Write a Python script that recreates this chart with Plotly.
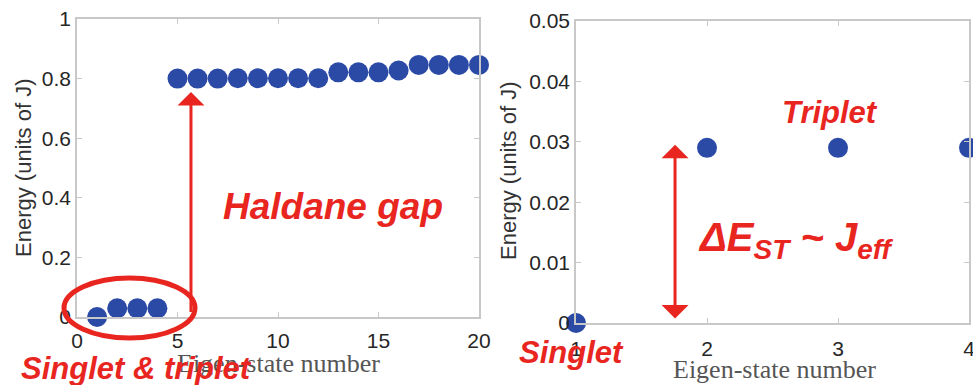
import plotly.graph_objects as go

# ---- data ----
left_states = list(range(1, 21))
left_energy = [0.0, 0.029, 0.029, 0.029,
               0.800, 0.800, 0.800, 0.801, 0.801, 0.801, 0.801, 0.801,
               0.821, 0.821, 0.821, 0.827,
               0.846, 0.846, 0.846, 0.846]
right_states = [1, 2, 3, 4]
right_energy = [0.0, 0.029, 0.029, 0.029]

left_xticks = [0, 5, 10, 15, 20]
left_yticks = [0, 0.2, 0.4, 0.6, 0.8, 1.0]
left_ytick_text = ["0", "0.2", "0.4", "0.6", "0.8", "1"]
right_xticks = [1, 2, 3, 4]
right_yticks = [0, 0.01, 0.02, 0.03, 0.04, 0.05]
right_ytick_text = ["0", "0.01", "0.02", "0.03", "0.04", "0.05"]

W, H = 973, 385
MARK = "#2b4aa6"
RED = "#e8261f"
FRAME = "#c8c8c8"
TICKFONT = dict(family="Liberation Sans, Arial, sans-serif", size=21, color="#262626")


def px(x):
    return x / W


def py(y):
    return 1 - y / H


fig = go.Figure()
fig.add_trace(go.Scatter(x=left_states, y=left_energy, mode="markers",
                         marker=dict(size=20, color=MARK), cliponaxis=False,
                         xaxis="x", yaxis="y", showlegend=False))
fig.add_trace(go.Scatter(x=right_states, y=right_energy, mode="markers",
                         marker=dict(size=20, color=MARK), cliponaxis=False,
                         xaxis="x2", yaxis="y2", showlegend=False))

axis_common = dict(showgrid=False, zeroline=False, showline=True, linecolor=FRAME,
                   linewidth=1.5, mirror="ticks", ticks="inside", ticklen=5,
                   tickcolor=FRAME, tickfont=TICKFONT, automargin=False,
                   ticklabeloverflow="allow")

fig.update_layout(
    width=W, height=H,
    margin=dict(l=0, r=0, t=0, b=0, autoexpand=False),
    paper_bgcolor="white", plot_bgcolor="white",
    xaxis=dict(domain=[px(77), px(479)], range=[0, 20], tickvals=left_xticks,
               anchor="y", ticklabelstandoff=4, **axis_common),
    yaxis=dict(domain=[py(317), py(19)], range=[0, 1], tickvals=left_yticks,
               ticktext=left_ytick_text, anchor="x", **axis_common),
    xaxis2=dict(domain=[px(576), px(969)], range=[1, 4], tickvals=right_xticks,
                anchor="y2", ticklabelstandoff=6, **axis_common),
    yaxis2=dict(domain=[py(323), py(21)], range=[0, 0.05], tickvals=right_yticks,
                ticktext=right_ytick_text, anchor="x2", **axis_common),
)

annotations = []
# axis titles
for (x, y, txt) in [(278, 363, "Eigen-state number"), (774, 369, "Eigen-state number")]:
    annotations.append(dict(x=px(x), y=py(y), xref="paper", yref="paper", text=txt,
                            showarrow=False, xanchor="center", yanchor="middle",
                            font=dict(family="Liberation Serif, DejaVu Serif, serif",
                                      size=26, color="#555555")))
for (x, y) in [(24, 168), (508, 171)]:
    annotations.append(dict(x=px(x), y=py(y), xref="paper", yref="paper",
                            text="Energy (units of J)", textangle=-90,
                            showarrow=False, xanchor="center", yanchor="middle",
                            font=dict(family="Liberation Sans, Arial, sans-serif",
                                      size=22, color="#333333")))

# arrows
annotations.append(dict(x=5.67, y=0.755, xref="x", yref="y", ax=5.67, ay=0.012,
                        axref="x", ayref="y", text="", showarrow=True,
                        arrowhead=1, arrowsize=1.5, arrowwidth=3, arrowcolor=RED))
annotations.append(dict(x=1.756, y=0.0295, xref="x2", yref="y2", ax=1.756, ay=0.0005,
                        axref="x2", ayref="y2", text="", showarrow=True,
                        arrowhead=1, startarrowhead=1, arrowside="end+start",
                        arrowsize=1.5, startarrowsize=1.5, arrowwidth=3, arrowcolor=RED))

red_font = dict(family="Liberation Sans, Arial, sans-serif", color=RED,
                weight="bold", style="italic")
labels = [
    (333, 207, "Haldane gap", 37),
    (136, 368, "Singlet & triplet", 31),
    (571, 352, "Singlet", 31),
    (830, 112, "Triplet", 31),
    (796, 240, "ΔE<sub>ST</sub> ~ J<sub>eff</sub>", 40),
]
for (x, y, txt, s) in labels:
    annotations.append(dict(x=px(x), y=py(y), xref="paper", yref="paper", text=txt,
                            showarrow=False, xanchor="center", yanchor="middle",
                            font=dict(size=s, **red_font)))

fig.update_layout(annotations=annotations)

fig.add_shape(type="circle", xref="paper", yref="paper",
              x0=px(64), x1=px(195), y0=py(338), y1=py(278),
              line=dict(color=RED, width=5))

fig.write_html("out.html")
